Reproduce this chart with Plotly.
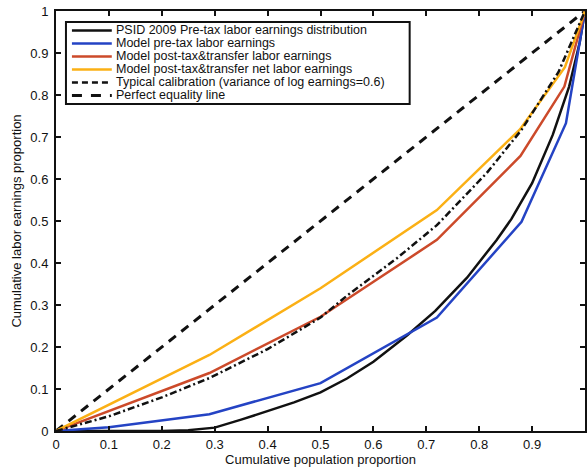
import plotly.graph_objects as go

# ---- data ----
psid_x = [0, 0.2, 0.25, 0.3, 0.35, 0.4, 0.45, 0.5, 0.55, 0.6, 0.664, 0.717, 0.777, 0.833, 0.861, 0.9, 0.939, 0.97, 0.99, 1.0]
psid_y = [0, 0.0, 0.002, 0.008, 0.027, 0.047, 0.068, 0.092, 0.125, 0.165, 0.228, 0.286, 0.365, 0.455, 0.505, 0.59, 0.705, 0.82, 0.925, 1.0]

pre_x = [0, 0.1, 0.29, 0.5, 0.72, 0.88, 0.964, 1.0]
pre_y = [0, 0.009, 0.04, 0.114, 0.27, 0.498, 0.733, 1.0]

post_x = [0, 0.29, 0.5, 0.72, 0.878, 0.961, 1.0]
post_y = [0, 0.138, 0.272, 0.455, 0.655, 0.82, 1.0]

net_x = [0, 0.29, 0.5, 0.72, 0.877, 0.962, 1.0]
net_y = [0, 0.181, 0.34, 0.526, 0.718, 0.866, 1.0]

typ_x = [0, 0.1, 0.2, 0.29, 0.4, 0.5, 0.55, 0.645, 0.72, 0.814, 0.88, 0.95, 1.0]
typ_y = [0, 0.035, 0.08, 0.126, 0.195, 0.27, 0.322, 0.412, 0.49, 0.614, 0.717, 0.855, 1.0]

eq_x = [0, 1]
eq_y = [0, 1]

labels = [
    "PSID 2009 Pre-tax labor earnings distribution",
    "Model pre-tax labor earnings",
    "Model post-tax&transfer labor earnings",
    "Model post-tax&transfer net labor earnings",
    "Typical calibration (variance of log earnings=0.6)",
    "Perfect equality line",
]
xtick_vals = [0, 0.1, 0.2, 0.3, 0.4, 0.5, 0.6, 0.7, 0.8, 0.9]
ytick_vals = [0, 0.1, 0.2, 0.3, 0.4, 0.5, 0.6, 0.7, 0.8, 0.9, 1.0]

# ---- styles ----
BLACK = "#111111"
BLUE = "#2443c4"
RED = "#cc4a2a"
ORANGE = "#fbb015"
FONT = "Liberation Sans, Arial, sans-serif"
styles = [
    dict(color=BLACK, width=2.5, dash="solid"),
    dict(color=BLUE, width=2.5, dash="solid"),
    dict(color=RED, width=2.5, dash="solid"),
    dict(color=ORANGE, width=2.5, dash="solid"),
    dict(color=BLACK, width=2.5, dash="7px,3px,2px,3px"),
    dict(color=BLACK, width=3, dash="9px,7px"),
]
series = [(psid_x, psid_y), (pre_x, pre_y), (post_x, post_y), (net_x, net_y), (typ_x, typ_y), (eq_x, eq_y)]

fig = go.Figure()
draw_order = [5, 0, 1, 2, 3, 4]
for i in draw_order:
    x, y = series[i]
    fig.add_trace(go.Scatter(x=x, y=y, mode="lines", name=labels[i], line=styles[i], showlegend=False))

W, H = 587, 467
ML, MR, MT, MB = 56, 0, 11, 36
pw, ph = W - ML - MR, H - MT - MB

def px(xp):
    return (xp - ML) / pw

def py(yp):
    return (H - MB - yp) / ph

shapes = []
annotations = []
# legend box
shapes.append(dict(type="rect", xref="paper", yref="paper", x0=px(66), x1=px(411), y0=py(104), y1=py(22),
                   line=dict(color=BLACK, width=2), fillcolor="white", layer="above"))
row_y = [30.5, 43.5, 56.5, 69.5, 82.5, 95.5]
leg_dash = ["solid", "solid", "solid", "solid", "6px,4px", "10px,9px"]
for i, lab in enumerate(labels):
    st = styles[i]
    shapes.append(dict(type="line", xref="paper", yref="paper", x0=px(72), x1=px(112), y0=py(row_y[i]), y1=py(row_y[i]),
                       line=dict(color=st["color"], width=st["width"], dash=leg_dash[i]), layer="above"))
    annotations.append(dict(xref="paper", yref="paper", x=px(115), y=py(row_y[i]), text=lab, showarrow=False,
                            xanchor="left", yanchor="middle", borderpad=0,
                            font=dict(size=12.5, color=BLACK, family=FONT)))

axis_common = dict(showline=True, linecolor=BLACK, linewidth=2, mirror="ticks", ticks="inside", ticklen=5,
                   tickwidth=1.5, tickcolor=BLACK, showgrid=False, zeroline=False,
                   tickfont=dict(size=13, color=BLACK, family=FONT))

fig.update_layout(
    width=W, height=H,
    margin=dict(l=ML, r=MR, t=MT, b=MB),
    paper_bgcolor="white", plot_bgcolor="white",
    showlegend=False,
    shapes=shapes, annotations=annotations,
    xaxis=dict(range=[0, 1], tickvals=xtick_vals,
               title=dict(text="Cumulative population proportion", standoff=0,
                          font=dict(size=13, color=BLACK, family=FONT)),
               **axis_common),
    yaxis=dict(range=[0, 1], tickvals=ytick_vals, ticklabelstandoff=3,
               title=dict(text="Cumulative labor earnings proportion", standoff=6,
                          font=dict(size=13, color=BLACK, family=FONT)),
               **axis_common),
)

fig.write_html("out.html")
